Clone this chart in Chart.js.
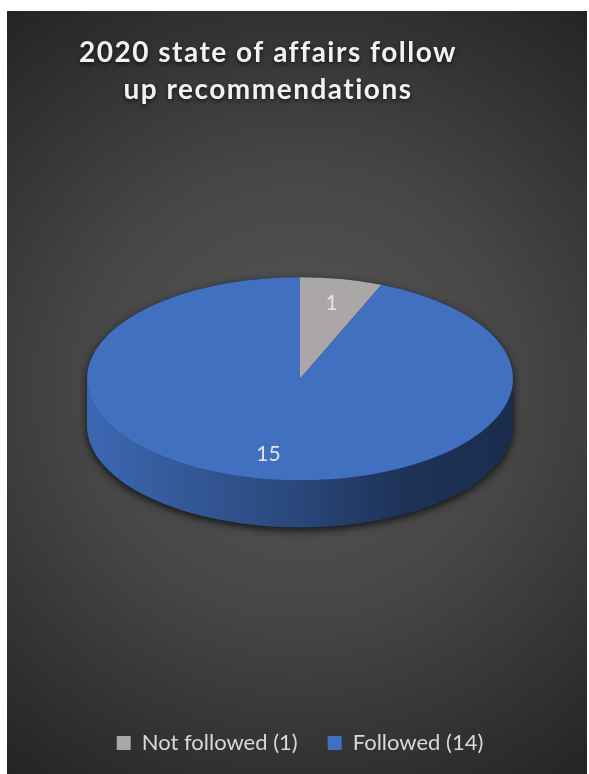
<!DOCTYPE html>
<html>
<head>
<meta charset="utf-8">
<script src="https://cdn.jsdelivr.net/npm/chart.js@4.4.0/dist/chart.umd.min.js"></script>
<style>
	html, body { margin: 0; padding: 0; background: #fff; }
	#cadre { position: absolute; left: 7px; top: 11px; width: 580px; height: 763px; }
</style>
</head>
<body>
<div id="cadre"><canvas id="graphSuivi"></canvas></div>
<script>
// données du graphique
const titre = ["2020 state of affairs follow", "up recommendations"];
const categories = ["Not followed (1)", "Followed (14)"];
const valeurs = [1, 15];
const couleurs = ["#aaa7a6", "#4170c0"];

// réglages 3D
const inclinaison = 0.477;
const epaisseur = 47;

const assombrir = (hex, f) => {
	const n = parseInt(hex.slice(1), 16);
	const r = Math.round(((n >> 16) & 255) * f);
	const g = Math.round(((n >> 8) & 255) * f);
	const b = Math.round((n & 255) * f);
	return `rgb(${r},${g},${b})`;
};

// fond dégradé
const fond = {
	id: "fond",
	beforeDraw(chart) {
		const ctx = chart.ctx;
		const grad = ctx.createRadialGradient(293, 380, 0, 293, 380, 480);
		grad.addColorStop(0, "#565656");
		grad.addColorStop(0.45, "#474747");
		grad.addColorStop(1, "#242424");
		ctx.save();
		ctx.fillStyle = grad;
		ctx.fillRect(0, 0, chart.width, chart.height);
		ctx.restore();

		// titre : espacement des lettres + ombre
		const bloc = chart.titleBlock;
		if (bloc && !bloc._modifie) {
			const dessin = bloc.draw.bind(bloc);
			bloc.draw = (area) => {
				ctx.save();
				ctx.letterSpacing = "1.5px";
				ctx.translate(-32, 0);
				ctx.shadowColor = "rgba(0,0,0,0.65)";
				ctx.shadowBlur = 4;
				ctx.shadowOffsetY = 2;
				dessin(area);
				ctx.restore();
			};
			bloc._modifie = true;
		}
	},
};

// camembert en 3D : côté, ombre, écrasement, étiquettes
const pie3d = {
	id: "pie3d",
	beforeDatasetsDraw(chart) {
		const ctx = chart.ctx;
		const arcs = chart.getDatasetMeta(0).data;
		if (!arcs.length) return;
		const { x: cx, y: cy, outerRadius: r } = arcs[0];
		const ry = r * inclinaison;

		// ombre sous le disque
		ctx.save();
		ctx.beginPath();
		ctx.ellipse(cx, cy, r, ry, 0, Math.PI, 2 * Math.PI);
		ctx.ellipse(cx, cy + epaisseur, r, ry, 0, 0, Math.PI);
		ctx.closePath();
		ctx.shadowColor = "rgba(0,0,0,0.75)";
		ctx.shadowBlur = 9;
		ctx.shadowOffsetY = 3;
		ctx.fillStyle = "#1a2b4f";
		ctx.fill();
		ctx.restore();

		// côtés visibles (moitié avant)
		arcs.forEach((arc, i) => {
			const couleur = couleurs[i];
			[-2 * Math.PI, 0, 2 * Math.PI].forEach((dec) => {
				const a1 = Math.max(arc.startAngle, dec);
				const a2 = Math.min(arc.endAngle, dec + Math.PI);
				if (a2 <= a1) return;
				const grad = ctx.createLinearGradient(cx - r, 0, cx + r, 0);
				grad.addColorStop(0, assombrir(couleur, 0.93));
				grad.addColorStop(0.15, assombrir(couleur, 0.84));
				grad.addColorStop(0.5, assombrir(couleur, 0.63));
				grad.addColorStop(0.75, assombrir(couleur, 0.45));
				grad.addColorStop(1, assombrir(couleur, 0.4));
				ctx.save();
				ctx.beginPath();
				ctx.ellipse(cx, cy, r, ry, 0, a1 - dec, a2 - dec);
				ctx.ellipse(cx, cy + epaisseur, r, ry, 0, a2 - dec, a1 - dec, true);
				ctx.closePath();
				ctx.fillStyle = grad;
				ctx.fill();
				ctx.restore();
			});
		});

		// écraser le dessus
		ctx.save();
		ctx.translate(cx, cy);
		ctx.scale(1, inclinaison);
		ctx.translate(-cx, -cy);
	},
	afterDatasetsDraw(chart) {
		const ctx = chart.ctx;
		ctx.restore();
		const arcs = chart.getDatasetMeta(0).data;
		ctx.save();
		ctx.font = "21px Lato";
		ctx.fillStyle = "#e4e4e4";
		ctx.textAlign = "center";
		ctx.textBaseline = "middle";
		arcs.forEach((arc, i) => {
			const milieu = (arc.startAngle + arc.endAngle) / 2;
			const lx = arc.x + Math.cos(milieu) * arc.outerRadius * 0.76;
			const ly = arc.y + Math.sin(milieu) * arc.outerRadius * 0.76 * inclinaison;
			ctx.fillText(String(valeurs[i]), lx, ly);
		});
		ctx.restore();
	},
};

window.addEventListener("load", () => {
	const canva = document.querySelector("#graphSuivi");
	new Chart(canva, {
		type: "pie",
		data: {
			labels: categories,
			datasets: [
				{
					data: valeurs,
					backgroundColor: couleurs,
					borderWidth: 0,
					hoverOffset: 0,
					radius: 213,
					clip: false,
				},
			],
		},
		options: {
			responsive: true,
			maintainAspectRatio: false,
			animation: false,
			events: [],
			layout: { padding: { left: 6, right: 0, top: 0, bottom: 10 } },
			plugins: {
				title: {
					display: true,
					text: titre,
					color: "#f2f2f2",
					font: { family: "Lato", size: 28, weight: "bold", lineHeight: 1.33 },
					padding: { top: 23, bottom: 5 },
				},
				legend: {
					position: "bottom",
					title: {
						display: true,
						text: "",
						font: { size: 10, lineHeight: 1 },
						padding: { top: 24, bottom: 24 },
					},
					labels: {
						color: "#d9d9d9",
						font: { family: "Lato", size: 22 },
						boxWidth: 14,
						boxHeight: 14,
						padding: 30,
					},
				},
				tooltip: { enabled: false },
			},
		},
		plugins: [fond, pie3d],
	});
});
</script>
</body>
</html>
